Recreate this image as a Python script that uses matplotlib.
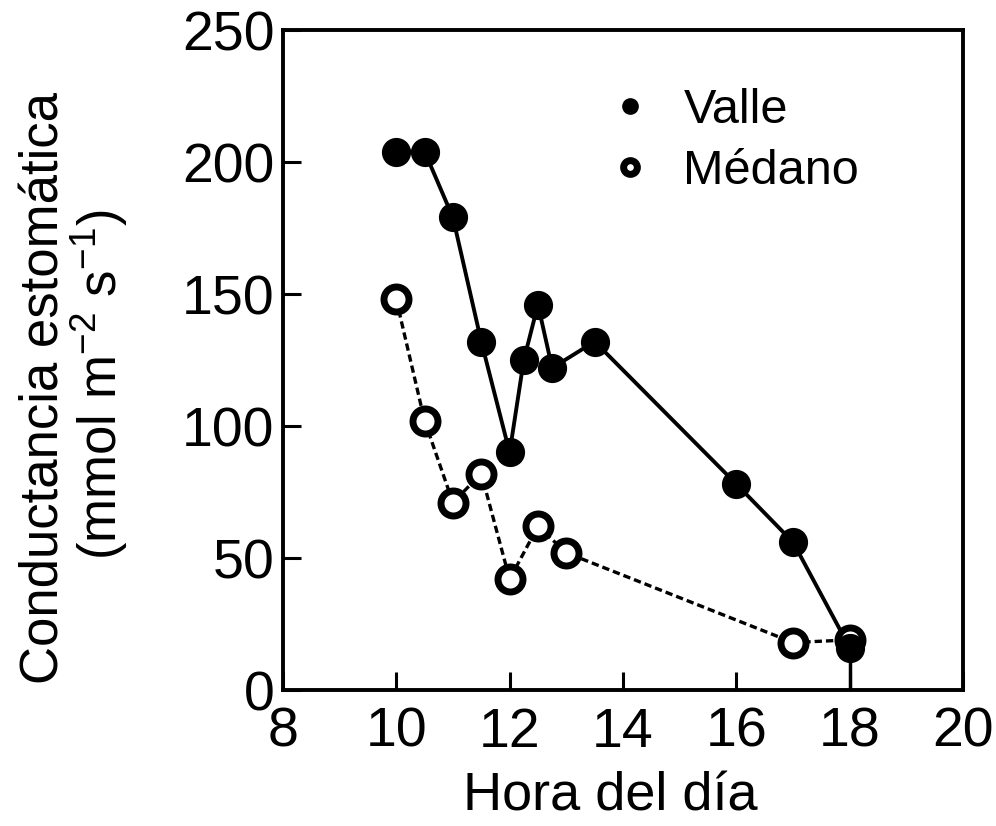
import matplotlib
matplotlib.use("Agg")
import matplotlib.pyplot as plt
import numpy as np

plt.rcParams['font.family'] = ['Liberation Sans', 'DejaVu Sans']
plt.rcParams['mathtext.fontset'] = 'custom'
plt.rcParams['mathtext.rm'] = 'Liberation Sans'
plt.rcParams['mathtext.it'] = 'Liberation Sans'

# Valle (filled circles)
valle_hora = [10, 10.5, 11, 11.5, 12, 12.25, 12.5, 12.75, 13.5, 16, 17, 18]
valle_gs = [204, 204, 179, 132, 90, 125, 146, 122, 132, 78, 56, 16]
valle_err_low = [0, 0, 0, 0, 0, 0, 0, 0, 0, 0, 0, 16]

# Medano (open circles)
medano_hora = [10, 10.5, 11, 11.5, 12, 12.5, 13, 17, 18]
medano_gs = [148, 102, 71, 82, 42, 62, 52, 18, 19]

fig = plt.figure(figsize=(9.96, 8.26), dpi=100)
ax = fig.add_axes([0.284, 0.1646, 0.683, 0.799])

# lines
ax.plot(medano_hora, medano_gs, color='black', lw=2.4, ls=(0, (2.2, 1.2)), zorder=2)
ax.plot(valle_hora, valle_gs, color='black', lw=2.8, zorder=2)

# error bar at the last point
ax.errorbar(valle_hora, valle_gs,
            yerr=[valle_err_low, np.zeros(len(valle_err_low))],
            fmt='none', ecolor='black', elinewidth=2.5, capsize=0, zorder=1)

# markers
ax.plot(medano_hora, medano_gs, 'o', ms=18, mfc='white', mec='black', mew=5,
        label='Médano', zorder=3)
ax.plot(valle_hora, valle_gs, 'o', ms=20, mfc='black', mec='black',
        label='Valle', zorder=4)

ax.set_xlim(8, 20)
ax.set_ylim(0, 250)
ax.set_xticks([8, 10, 12, 14, 16, 18, 20])
ax.set_yticks([0, 50, 100, 150, 200, 250])

for s in ax.spines.values():
    s.set_linewidth(2.8)
ax.tick_params(direction='in', length=13, width=2.2, labelsize=40)
ax.tick_params(axis='y', pad=6)
ax.tick_params(axis='x', pad=12)

ax.set_xlabel('Hora del día', fontsize=39, labelpad=9)
ax.xaxis.label.set_x(0.481)

fig.text(0.045, 0.53, 'Conductancia estomática', rotation=90,
         ha='center', va='center', fontsize=38)
fig.text(0.10, 0.534, '(mmol m$^{-2}$ s$^{-1}$)', rotation=90,
         ha='center', va='center', fontsize=38)

h, l = ax.get_legend_handles_labels()
leg = ax.legend(h[::-1], l[::-1], loc='upper left', bbox_to_anchor=(0.41, 0.978),
                frameon=False, fontsize=35, markerscale=0.55, handletextpad=0.6,
                labelspacing=0.33, handlelength=1.0, numpoints=1)

fig.savefig('out.png', dpi=100)
